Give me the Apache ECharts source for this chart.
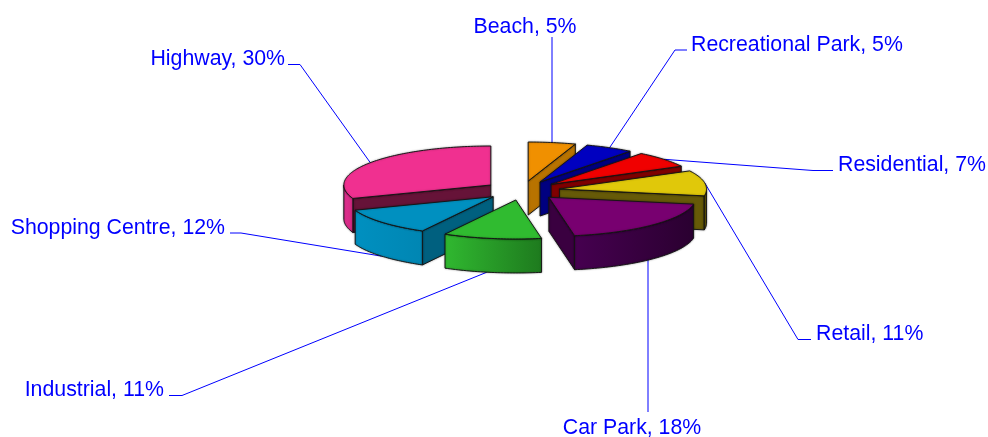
<!DOCTYPE html>
<html><head><meta charset="utf-8">
<style>html,body{margin:0;padding:0;background:#fff}#c{width:988px;height:437px}</style>
<script src="https://cdn.jsdelivr.net/npm/echarts@6/dist/echarts.min.js"></script>
</head><body><div id="c"></div>
<script>
var categories = ['Beach','Recreational Park','Residential','Retail','Car Park','Industrial','Shopping Centre','Highway'];
var labelPercents = [5,5,7,11,18,11,12,30];
// slice sizes as drawn in the picture (the printed labels are rounded)
var sliceShares = [5.2,5.3,6.8,10.5,19.4,10.8,11.4,30.6];

var topColors  = ['#f09000','#0000c0','#f00000','#e0c80a','#780070','#30bb30','#0090c0','#f03090'];
var cutColors  = ['#b87300','#000080','#800000','#665a08','#3a0040','#1e7a1e','#00607f','#661338'];
var rimLight   = ['#c87f00','#0000a0','#a00000','#665a08','#460050','#30b830','#0090c0','#e03090'];
var rimDark    = ['#b87300','#000080','#800000','#5a4f00','#2a0030','#1e7a1e','#0086b3','#d02880'];

var G = {cx:522, cy:190.5, rx:147, ry:39, depth:34, explodeX:38, explodeY:9.6};
// text box [x, y, align], leader start, elbow, and where the leader meets the slice
var labelLayout = [
  {x:525, y:27,  align:'center', from:[552,37],    elbow:[552,37],    shift:0, vertical:true},
  {x:691, y:45,  align:'left',   from:[687,50],    elbow:[675,50],    shift:0},
  {x:838, y:165, align:'left',   from:[833,170.5], elbow:[813,170.5], shift:0},
  {x:816, y:334, align:'left',   from:[811,339.5], elbow:[798,339.5], shift:0},
  {x:632, y:428, align:'center', from:[648,412],   elbow:[648,412],   shift:0, vertical:true},
  {x:164, y:390, align:'right',  from:[169,395.5], elbow:[182,395.5], shift:2},
  {x:225, y:228, align:'right',  from:[230,233],   elbow:[241,233],   shift:0},
  {x:285, y:59,  align:'right',  from:[288,64.5],  elbow:[300,64.5],  shift:0}
];

var total = sliceShares.reduce(function(a,b){return a+b;},0);
var bounds = [0];
sliceShares.forEach(function(v,i){ bounds.push(bounds[i]+v/total*Math.PI*2); });

function pt(c,a,dz){ return [c[0]+G.rx*Math.sin(a), c[1]-G.ry*Math.cos(a)+(dz||0)]; }
function arc(c,a0,a1,dz){
  var n=Math.max(2,Math.ceil(Math.abs(a1-a0)/0.02)),r=[];
  for(var i=0;i<=n;i++) r.push(pt(c,a0+(a1-a0)*i/n,dz));
  return r;
}
var edge={stroke:'rgba(20,20,20,0.95)',lineWidth:1,lineJoin:'round',shadowBlur:2,shadowColor:'rgba(0,0,0,0.35)'};
function st(fill){ return Object.assign({fill:fill},edge); }
function poly(points,style,z){ return {type:'polygon',shape:{points:points},style:style,z2:z,silent:true}; }

function renderSlice(params,api){
  var i=params.dataIndex, a0=bounds[i], a1=bounds[i+1], m=(a0+a1)/2;
  api.value(0);
  var c=[G.cx+G.explodeX*Math.sin(m), G.cy-G.explodeY*Math.cos(m)];
  var d=G.depth;
  // paint far slices first
  var z=Math.round((1-Math.cos(m))*100)+10;
  var kids=[];
  // cut faces that look toward the viewer
  if(Math.sin(a0)<0) kids.push(poly([c,pt(c,a0),pt(c,a0,d),[c[0],c[1]+d]],st(cutColors[i]),z));
  if(Math.sin(a1)>0) kids.push(poly([c,pt(c,a1),pt(c,a1,d),[c[0],c[1]+d]],st(cutColors[i]),z));
  // outer rim, front half only
  var r0=Math.max(a0,Math.PI/2), r1=Math.min(a1,Math.PI*1.5);
  if(r1>r0){
    var up=arc(c,r0,r1,0), down=arc(c,r1,r0,d);
    kids.push(poly(up.concat(down),st(new echarts.graphic.LinearGradient(0,0,1,0,[
      {offset:0,color:rimLight[i]},{offset:1,color:rimDark[i]}])),z+1));
  }
  // top face
  kids.push(poly([c].concat(arc(c,a0,a1,0)),st(topColors[i]),z+2));
  // leader line and label
  var L=labelLayout[i];
  var anchor=pt(c,m+L.shift*Math.PI/180,Math.cos(m)<0?d:0);
  if(L.vertical) anchor=[L.elbow[0],anchor[1]];
  kids.push({type:'polyline',shape:{points:[L.from,L.elbow,anchor]},
    style:{fill:null,stroke:'#0000ff',lineWidth:1},z2:1,silent:true});
  kids.push({type:'text',x:L.x,y:L.y,z2:300,silent:true,style:{
    text:categories[i]+', '+labelPercents[i]+'%',fill:'#0000ff',
    font:'21.3px "Liberation Sans", Arial, sans-serif',
    align:L.align,verticalAlign:'middle'}});
  return {type:'group',children:kids};
}

var chart=echarts.init(document.getElementById('c'),null,{renderer:'canvas'});
chart.setOption({
  backgroundColor:'#ffffff',
  animation:false,
  series:[{
    type:'custom',
    coordinateSystem:'none',
    clip:false,
    silent:true,
    renderItem:renderSlice,
    data:categories.map(function(n,i){return {name:n,value:[sliceShares[i]]};})
  }]
});
</script></body></html>
